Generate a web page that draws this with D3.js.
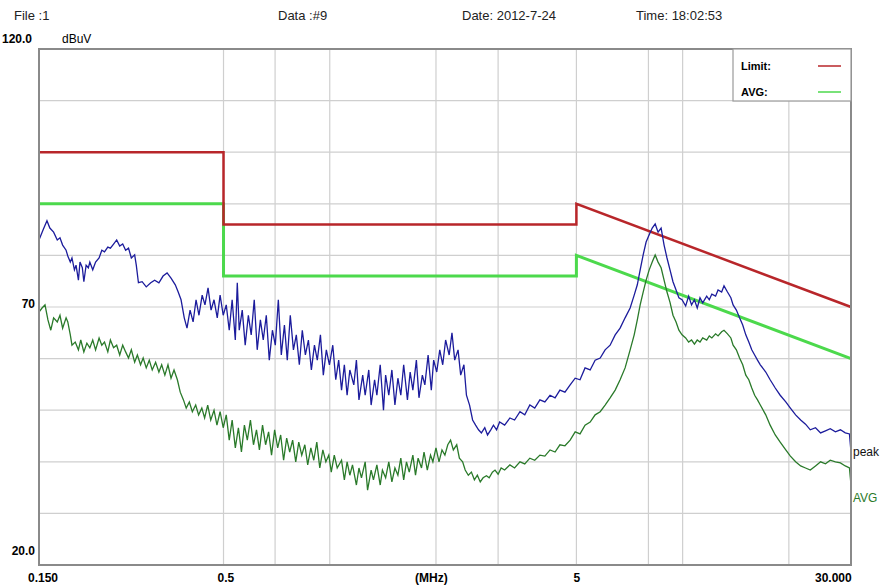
<!DOCTYPE html>
<html>
<head>
<meta charset="utf-8">
<script src="https://cdn.jsdelivr.net/npm/d3@7"></script>
<style>
  body { margin: 0; background: #fff; }
  svg { display: block; font-family: "Liberation Sans", Arial, sans-serif; }
</style>
</head>
<body>
<div id="chart"></div>
<script>
// header texts
const headerTexts = [
  {text: "File :1", x: 14},
  {text: "Data :#9", x: 278},
  {text: "Date: 2012-7-24", x: 462},
  {text: "Time: 18:02:53", x: 636}
];

// axes
const freqDomain = [0.15, 30];
const levelDomain = [20, 120];
const gridFreqs = [0.5, 0.7, 1, 2, 3, 5, 8, 10, 20];
const gridLevels = [30, 40, 50, 60, 70, 80, 90, 100, 110];
const xTickLabels = [
  {f: 0.15, label: "0.150", dx: -11},
  {f: 0.5, label: "0.5", dx: -6},
  {f: 1.95, label: "(MHz)", dx: -17},
  {f: 5, label: "5", dx: -3},
  {f: 30, label: "30.000", dx: -36}
];
const yTickLabels = [{v: 70, label: "70"}, {v: 20, label: "20.0"}];

// limit lines (MHz, dBuV)
const qpLimitFreq = [0.15, 0.5, 0.5, 5, 5, 30];
const qpLimitDb   = [100, 100, 86, 86, 90, 70];
const avLimitFreq = [0.15, 0.5, 0.5, 5, 5, 30];
const avLimitDb   = [90, 90, 76, 76, 80, 60];

// peak trace
const peakFreq = [0.150,0.154,0.158,0.161,0.165,0.169,0.172,0.175,0.179,0.181,0.184,0.186,0.189,0.191,0.194,0.196,0.199,0.201,0.204,0.207,0.209,0.213,0.217,0.222,0.226,0.230,0.235,0.239,0.244,0.249,0.254,0.259,0.264,0.269,0.274,0.280,0.283,
  0.287,0.294,0.302,0.311,0.319,0.328,0.337,0.346,0.355,0.365,
  0.372,0.379,0.387,0.394,0.402,0.410,0.418,0.426,0.435,0.443,0.452,0.461,0.470,0.480,0.489,0.499,0.509,0.519,0.529,0.540,0.547,0.554,0.565,0.576,0.588,0.599,0.611,0.623,0.636,0.648,0.661,0.674,0.688,0.701,0.715,0.729,0.744,0.758,0.773,0.789,0.804,0.820,0.836,0.853,0.870,0.887,0.905,0.922,0.941,0.959,0.978,0.998,1.02,1.04,1.06,1.08,1.10,1.12,1.14,1.17,1.19,1.21,1.24,1.26,1.29,1.31,1.34,1.36,1.39,1.42,1.44,1.47,1.50,1.53,1.56,1.59,1.62,1.66,1.69,1.72,1.76,1.79,1.83,1.86,1.90,1.94,1.97,2.01,2.05,2.09,2.13,2.18,2.22,2.26,2.31,2.35,2.40,2.44,2.49,2.54,2.59,2.64,2.69,2.75,2.80,2.86,2.91,2.97,
  3.03,3.13,3.24,3.34,3.46,3.57,3.69,3.81,3.94,4.07,4.21,4.35,4.49,4.64,4.80,4.96,5.12,5.29,5.47,5.65,5.84,6.03,6.23,6.44,6.65,6.87,7.10,7.29,7.44,7.58,7.73,7.88,8.04,8.20,8.36,8.52,8.69,8.86,9.03,9.21,9.39,9.58,9.76,9.96,10.2,10.4,10.6,10.8,11.0,11.2,11.4,11.7,11.9,12.1,12.4,12.6,12.9,13.1,13.4,13.7,13.9,14.2,14.5,14.8,15.1,15.4,15.7,16.0,16.3,16.6,17.2,17.7,18.3,18.9,19.6,20.2,20.9,21.6,22.3,23.0,23.8,24.6,25.4,26.2,27.1,28.0,28.9,29.7,30.0];
const peakDb = [83.0,84.9,86.7,85.3,84.5,83.0,83.4,82.0,81.0,79.9,78.7,79.5,77.2,78.1,75.2,78.7,77.6,74.9,78.1,77.6,78.7,77.2,78.7,79.5,81.0,80.7,81.6,81.4,82.2,83.0,81.8,82.2,81.0,81.4,79.5,80.1,78.1,
  74.7,74.9,73.9,74.7,75.2,74.7,76.0,76.6,75.6,74.3,
  72.9,71.4,67.9,65.9,69.4,67.1,71.4,68.4,72.3,70.4,73.7,69.4,71.4,67.9,72.3,68.4,70.4,65.5,71.4,63.6,74.7,65.5,69.4,62.6,68.4,64.6,71.4,61.7,67.5,63.6,68.4,59.7,65.5,62.6,71.4,60.7,66.5,59.7,68.4,61.7,64.6,58.8,65.5,60.7,63.6,57.8,62.6,59.7,64.6,56.8,61.7,58.8,62.6,55.9,59.7,53.9,58.8,52.9,57.8,54.9,59.7,52.0,56.8,52.9,57.8,51.0,55.9,52.9,58.8,50.0,56.8,52.9,57.8,51.0,56.2,52.9,58.8,52.0,57.4,53.9,59.7,52.4,56.8,54.9,60.7,53.9,59.7,57.4,61.7,58.8,63.6,60.7,65.0,59.7,61.7,56.8,58.8,52.9,51.0,48.1,47.1,46.2,45.6,46.6,45.2,46.2,47.1,46.2,
  47.7,47.1,48.5,48.1,49.7,49.1,51.0,50.4,52.0,51.6,52.9,52.4,53.9,53.5,54.9,56.2,55.9,58.2,57.8,59.7,60.1,61.7,62.6,64.6,65.9,67.9,69.8,72.3,74.3,77.2,80.1,82.6,84.0,85.3,86.1,84.5,85.3,82.0,79.5,77.2,74.9,73.3,71.8,71.4,70.2,72.1,70.4,71.4,69.8,71.8,70.8,72.1,71.4,72.5,72.1,73.3,72.9,74.1,72.9,71.8,70.4,69.4,67.9,66.5,64.6,63.2,61.7,60.7,59.7,58.8,57.4,55.9,54.3,52.9,51.6,50.4,49.1,48.1,47.3,46.2,46.6,45.6,46.0,46.4,45.8,46.2,45.6,45.4,41.9];

// average trace
const avgFreq = [0.150,0.153,0.156,0.159,0.162,0.165,0.169,0.172,0.175,0.179,0.181,0.184,0.186,0.190,0.194,0.197,0.201,0.205,0.209,0.213,0.217,0.222,0.226,0.230,0.235,0.239,0.244,0.249,0.254,0.259,0.264,0.269,0.274,0.280,0.285,0.291,0.296,0.302,0.308,0.314,0.321,0.328,0.334,0.341,0.348,0.355,0.362,0.370,0.377,0.385,0.392,0.400,0.408,0.417,0.425,0.434,0.442,0.451,0.460,0.470,0.479,0.489,0.499,0.509,0.519,0.529,0.540,0.551,0.562,0.573,0.584,0.596,0.608,0.620,0.632,0.645,0.658,0.671,0.684,0.698,0.712,0.726,0.740,0.755,0.770,0.785,0.801,0.817,0.833,0.850,0.866,0.884,0.901,0.919,0.937,0.956,0.975,0.994,1.01,1.03,1.05,1.08,1.10,1.12,1.14,1.16,1.19,1.21,1.23,1.26,1.28,1.31,1.33,1.36,1.39,1.41,1.44,1.47,1.50,1.53,1.56,1.59,1.62,1.65,1.68,1.72,1.75,1.78,1.82,1.85,1.89,1.93,1.96,2.00,2.04,2.08,2.12,2.16,2.20,2.24,2.29,2.33,2.38,2.42,2.47,2.52,2.57,2.62,2.67,2.72,2.78,2.83,2.89,2.94,3.00,3.06,
  3.13,3.24,3.34,3.46,3.57,3.69,3.81,3.94,4.07,4.21,4.35,4.49,4.64,4.80,4.96,5.12,5.29,5.47,5.65,5.84,6.03,6.23,6.44,6.65,6.87,7.10,7.29,7.44,7.58,7.73,7.88,8.04,8.20,8.36,8.52,8.69,8.86,9.03,9.21,9.39,9.58,9.76,9.96,10.2,10.4,10.6,10.8,11.0,11.2,11.4,11.7,11.9,12.1,12.4,12.6,12.9,13.1,13.4,13.7,13.9,14.2,14.5,14.8,15.1,15.4,15.7,16.0,16.3,16.6,17.2,17.7,18.3,18.9,19.6,20.2,20.9,21.6,22.3,23.0,23.8,24.6,25.4,26.2,27.1,28.0,28.9,29.7,30.0];
const avgDb = [69.0,69.8,70.4,67.5,65.5,67.9,67.1,68.4,65.9,67.9,67.1,64.6,62.6,63.2,61.7,63.6,61.3,63.0,62.1,63.6,61.7,64.0,62.6,63.2,61.3,63.6,62.1,62.6,60.7,62.6,61.3,60.1,61.7,59.3,60.7,58.8,60.1,58.2,59.7,57.8,59.3,57.4,58.8,56.8,58.8,56.2,57.8,55.9,53.5,52.0,50.4,51.6,49.7,51.0,49.1,50.4,48.5,51.0,48.1,50.0,47.1,49.7,46.6,49.1,44.2,48.1,42.7,46.6,41.9,47.1,44.2,48.1,43.3,46.2,42.3,47.1,43.3,45.8,41.3,46.2,42.7,45.2,40.3,44.6,41.9,44.2,40.0,43.8,41.3,43.3,39.4,42.7,40.3,43.8,38.8,42.3,40.0,41.3,38.0,41.3,38.8,40.3,36.5,40.0,37.4,39.4,35.5,38.8,36.9,40.0,34.5,38.4,36.5,39.4,35.5,38.4,36.9,40.0,36.1,38.8,37.4,40.7,36.5,40.0,38.0,41.3,37.4,40.7,38.8,41.9,38.4,41.3,40.0,42.7,40.0,42.3,41.3,43.3,44.2,42.3,43.3,40.7,40.0,38.4,37.4,38.0,36.5,37.4,36.1,36.9,37.3,36.9,38.0,38.4,37.6,38.8,
  38.4,39.4,38.8,40.0,39.6,40.7,40.3,41.3,41.1,42.3,41.9,43.3,43.1,44.2,45.8,45.4,47.1,47.7,49.1,49.7,51.0,52.4,53.9,55.9,58.2,61.7,64.6,67.5,70.4,72.9,75.2,77.2,78.7,80.1,78.7,77.6,75.2,72.9,70.9,68.4,67.1,65.5,64.6,64.0,63.2,63.6,62.8,63.6,63.2,64.0,63.6,64.4,64.0,64.8,64.4,65.2,65.5,64.8,64.0,62.6,61.7,60.1,58.8,56.8,55.9,54.3,52.9,52.0,51.0,49.1,47.1,45.2,43.8,42.3,41.1,40.0,39.2,38.8,38.4,39.2,40.0,39.6,40.3,40.0,39.8,39.2,38.8,35.5];

const COL_PEAK = "#1c1c9c";
const COL_AVG = "#2a7a2a";
const COL_QP_LIMIT = "#b8262a";
const COL_AV_LIMIT = "#4cd94c";

function drawChart() {
  const width = 883, height = 587;
  const margin = {top: 49, right: 32, bottom: 22, left: 39};

  const svg = d3.select("#chart").append("svg")
    .attr("width", width).attr("height", height);

  const x = d3.scaleLog().domain(freqDomain).range([margin.left, width - margin.right]);
  const y = d3.scaleLinear().domain(levelDomain).range([height - margin.bottom, margin.top]);

  // grid
  svg.append("g").selectAll("line").data(gridFreqs).join("line")
    .attr("x1", d => x(d)).attr("x2", d => x(d))
    .attr("y1", y(120)).attr("y2", y(20))
    .attr("stroke", "#cfcfcf").attr("stroke-width", 1.2);
  svg.append("g").selectAll("line").data(gridLevels).join("line")
    .attr("x1", x(0.15)).attr("x2", x(30))
    .attr("y1", d => y(d)).attr("y2", d => y(d))
    .attr("stroke", "#cfcfcf").attr("stroke-width", 1.2);

  // header
  svg.append("g").selectAll("text").data(headerTexts).join("text")
    .attr("x", d => d.x).attr("y", 20)
    .style("font-size", "13px").style("fill", "#222")
    .text(d => d.text);

  svg.append("text").attr("x", 2).attr("y", 43)
    .style("font-size", "12px").style("font-weight", "bold").text("120.0");
  svg.append("text").attr("x", 62).attr("y", 43)
    .style("font-size", "12px").text("dBuV");

  svg.append("g").selectAll("text").data(yTickLabels).join("text")
    .attr("x", 35).attr("y", d => y(d.v) + (d.v === 20 ? -10 : 1))
    .attr("text-anchor", "end")
    .style("font-size", "12px").style("font-weight", "bold")
    .text(d => d.label);

  svg.append("g").selectAll("text").data(xTickLabels).join("text")
    .attr("x", d => x(d.f) + d.dx).attr("y", 582)
    .style("font-size", "12px").style("font-weight", "bold")
    .text(d => d.label);

  // limits
  const line = d3.line().x(d => x(d[0])).y(d => y(d[1]));
  svg.append("path").datum(d3.zip(avLimitFreq, avLimitDb))
    .attr("d", line).attr("fill", "none")
    .attr("stroke", COL_AV_LIMIT).attr("stroke-width", 3);
  svg.append("path").datum(d3.zip(qpLimitFreq, qpLimitDb))
    .attr("d", line).attr("fill", "none")
    .attr("stroke", COL_QP_LIMIT).attr("stroke-width", 2.5);

  // traces
  svg.append("path").datum(d3.zip(avgFreq, avgDb))
    .attr("d", line).attr("fill", "none")
    .attr("stroke", COL_AVG).attr("stroke-width", 1.3);
  svg.append("path").datum(d3.zip(peakFreq, peakDb))
    .attr("d", line).attr("fill", "none")
    .attr("stroke", COL_PEAK).attr("stroke-width", 1.3);

  // frame
  svg.append("rect")
    .attr("x", x(0.15)).attr("y", y(120))
    .attr("width", x(30) - x(0.15)).attr("height", y(20) - y(120))
    .attr("fill", "none").attr("stroke", "#8a8a8a").attr("stroke-width", 2);

  // legend
  const lg = svg.append("g");
  lg.append("rect").attr("x", 733).attr("y", y(120))
    .attr("width", x(30) - 733).attr("height", 52)
    .attr("fill", "#fff").attr("stroke", "#9a9a9a").attr("stroke-width", 1.2);
  const legendItems = [{label: "Limit:", color: COL_QP_LIMIT, yy: 66}, {label: "AVG:", color: COL_AV_LIMIT, yy: 92}];
  lg.selectAll("text").data(legendItems).join("text")
    .attr("x", 741).attr("y", d => d.yy + 4)
    .style("font-size", "11px").style("font-weight", "bold")
    .text(d => d.label);
  lg.selectAll("line").data(legendItems).join("line")
    .attr("x1", 818).attr("x2", 841)
    .attr("y1", d => d.yy).attr("y2", d => d.yy)
    .attr("stroke", d => d.color).attr("stroke-width", 1.5);

  // trace labels
  svg.append("text").attr("x", 853).attr("y", 456)
    .style("font-size", "12px").style("fill", "#111").text("peak");
  svg.append("text").attr("x", 853).attr("y", 502)
    .style("font-size", "12px").style("fill", COL_AVG).text("AVG");
}

drawChart();
</script>
</body>
</html>
